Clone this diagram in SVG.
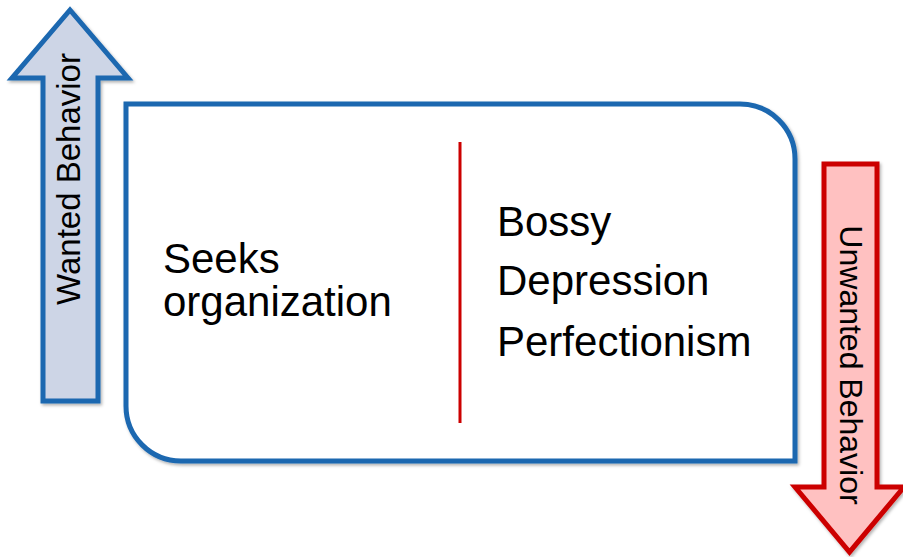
<svg xmlns="http://www.w3.org/2000/svg" width="903" height="557" viewBox="0 0 903 557">
  <defs>
    <filter id="sh" x="-10%" y="-10%" width="130%" height="130%">
      <feDropShadow dx="1.5" dy="2" stdDeviation="1.5" flood-color="#000" flood-opacity="0.3"/>
    </filter>
    <style>
      .lbl { font-family: "Liberation Sans", Arial, sans-serif; fill: #000; }
      .big { font-size: 42px; }
      .side { font-size: 32px; }
      .blue { fill: #CDD5E6; stroke: #1B67B0; stroke-width: 5; stroke-linejoin: miter; }
      .red { fill: #FFC1C1; stroke: #CC0000; stroke-width: 5; stroke-linejoin: miter; }
    </style>
  </defs>
  <rect width="903" height="557" fill="#ffffff"/>

  <g id="wanted-arrow">
    <path class="blue" filter="url(#sh)" d="M70,10 L128,78 L98,78 L98,401 L43,401 L43,78 L12,78 Z"/>
    <text class="lbl side" style="font-size:33px" transform="translate(80,179) rotate(-90)" text-anchor="middle">Wanted Behavior</text>
  </g>

  <g id="unwanted-arrow">
    <path class="red" filter="url(#sh)" d="M824,164 L877,164 L877,487 L904,487 L849.5,552 L795,487 L824,487 Z"/>
    <text class="lbl side" transform="translate(840,365) rotate(90)" text-anchor="middle">Unwanted Behavior</text>
  </g>

  <g id="box">
    <path filter="url(#sh)" d="M126,104 H740 A55,55 0 0 1 795,159 V461 H181 A55,55 0 0 1 126,406 Z" fill="#ffffff" stroke="#1B67B0" stroke-width="5"/>
  </g>

  <g id="connectors">
    <line x1="460" y1="142" x2="460" y2="423" stroke="#CC0000" stroke-width="3"/>
  </g>

  <g id="left-text">
    <text class="lbl big" x="163" y="273">Seeks</text>
    <text class="lbl big" x="163" y="316">organization</text>
  </g>

  <g id="right-text">
    <text class="lbl big" x="497" y="236">Bossy</text>
    <text class="lbl big" x="497" y="295">Depression</text>
    <text class="lbl big" x="497" y="356">Perfectionism</text>
  </g>
</svg>
